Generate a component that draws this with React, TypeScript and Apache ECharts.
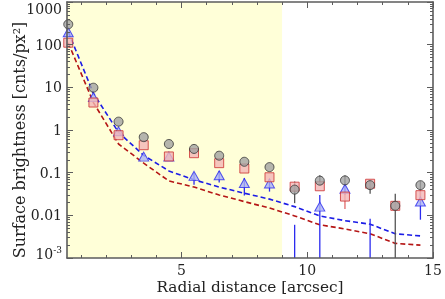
import React, { useEffect, useRef } from 'react';
import * as echarts from 'echarts';

// ---- data ----
const radius = [0.5, 1.5, 2.5, 3.5, 4.5, 5.5, 6.5, 7.5, 8.5, 9.5, 10.5, 11.5, 12.5, 13.5, 14.5];
const grayValues = [300, 9.8, 1.57, 0.68, 0.47, 0.36, 0.25, 0.18, 0.135, 0.04, 0.065, 0.066, 0.051, 0.0167, 0.051];
const grayErrLow = [null, null, null, null, null, null, null, null, null, 0.0193, 0.052, 0.055, 0.032, 0.0005, 0.04];
const grayErrHigh = [null, null, null, null, null, null, null, null, null, 0.062, 0.087, 0.086, 0.064, 0.032, 0.064];
const redValues = [111, 4.4, 0.755, 0.44, 0.24, 0.286, 0.167, 0.125, 0.078, 0.047, 0.048, 0.0275, 0.055, 0.0167, 0.0297];
const redErrLow = [null, null, null, null, null, null, null, null, null, null, null, 0.014, 0.045, null, 0.021];
const redErrHigh = [null, null, null, null, null, null, null, null, null, null, null, 0.035, 0.064, null, 0.04];
const blueValues = [195, 5.9, 0.93, 0.238, 0.24, 0.084, 0.087, 0.057, 0.056, null, 0.016, 0.042, null, null, 0.021];
const blueErrLow = [null, null, null, null, null, 0.052, 0.059, 0.029, 0.036, 0.0005, 0.0005, 0.03, 0.0005, null, 0.0079];
const blueErrHigh = [null, null, null, null, null, 0.1, 0.11, 0.075, 0.07, 0.006, 0.03, 0.055, 0.0083, null, 0.04];
const blueModel = [200, 7.2, 0.88, 0.254, 0.11, 0.068, 0.046, 0.033, 0.024, 0.016, 0.0097, 0.0075, 0.0062, 0.0037, 0.0033];
const redModel = [110, 4.4, 0.47, 0.167, 0.064, 0.046, 0.03, 0.021, 0.0148, 0.0097, 0.006, 0.0048, 0.0037, 0.0022, 0.002];
const shadedRange = [0.45, 9];
const xRange = [0.45, 15];
const yRange = [0.001, 1000];
const xMajorTicks = [5, 10, 15];
const xMinorTicks = [1, 2, 3, 4, 6, 7, 8, 9, 11, 12, 13, 14];
const yMajorTicks = [0.001, 0.01, 0.1, 1, 10, 100, 1000];
const yTickLabels = ['10^-3', '0.01', '0.1', '1', '10', '100', '1000'];
const yMinorTicks: number[] = [];
[0.001, 0.01, 0.1, 1, 10, 100].forEach((d) => {
  for (let k = 2; k <= 9; k++) yMinorTicks.push(+(d * k).toPrecision(3));
});
const xTitle = 'Radial distance [arcsec]';
const yTitle = 'Surface brightness [cnts/px²]';

const FONT = 'DejaVu Serif';
const AXIS_COLOR = '#5c5c5c';
const TEXT_COLOR = '#222222';

function pairs(vals: (number | null)[]) {
  const out: number[][] = [];
  vals.forEach((v, i) => {
    if (v != null) out.push([radius[i], v]);
  });
  return out;
}
function errData(lo: (number | null)[], hi: (number | null)[]) {
  const out: number[][] = [];
  lo.forEach((l, i) => {
    const h = hi[i];
    if (l != null && h != null) out.push([radius[i], l, h]);
  });
  return out;
}

function xAxisDef(position: 'top' | 'bottom', major: boolean, main: boolean) {
  return {
    type: 'value',
    position,
    min: xRange[0],
    max: xRange[1],
    z: 10,
    axisLine: { show: major, onZero: false, lineStyle: { color: AXIS_COLOR, width: 1.6 } },
    axisTick: {
      show: true,
      inside: true,
      length: major ? 6 : 3,
      customValues: major ? xMajorTicks : xMinorTicks,
      lineStyle: { color: AXIS_COLOR, width: 1 },
    },
    axisLabel: main
      ? { show: true, customValues: xMajorTicks, margin: 5, fontFamily: FONT, fontSize: 14, color: TEXT_COLOR }
      : { show: false },
    splitLine: { show: false },
    ...(main
      ? {
          name: xTitle,
          nameLocation: 'middle',
          nameGap: 21,
          nameMoveOverlap: false,
          nameTextStyle: { fontFamily: FONT, fontSize: 15.3, color: TEXT_COLOR },
        }
      : {}),
  };
}

function yLabelFormatter(v: number) {
  let idx = 0;
  let best = Infinity;
  yMajorTicks.forEach((t, i) => {
    const d = Math.abs(Math.log10(t) - Math.log10(v));
    if (d < best) {
      best = d;
      idx = i;
    }
  });
  const s = yTickLabels[idx];
  if (s.indexOf('^') >= 0) {
    const [b, e] = s.split('^');
    return `{b|${b}}{s|${e}}`;
  }
  if (idx === yMajorTicks.length - 1) return `{t|${s}}`;
  return s;
}

function yAxisDef(position: 'left' | 'right', major: boolean, main: boolean) {
  return {
    type: 'log',
    logBase: 10,
    position,
    min: yRange[0],
    max: yRange[1],
    z: 10,
    axisLine: { show: major, onZero: false, lineStyle: { color: AXIS_COLOR, width: 1.6 } },
    axisTick: {
      show: true,
      inside: true,
      length: major ? 6 : 3,
      customValues: major ? yMajorTicks : yMinorTicks,
      lineStyle: { color: AXIS_COLOR, width: 1 },
    },
    minorTick: { show: false },
    axisLabel: main
      ? {
          show: true,
          customValues: yMajorTicks,
          margin: 5,
          fontFamily: FONT,
          fontSize: 14,
          color: TEXT_COLOR,
          formatter: yLabelFormatter,
          rich: {
            b: { fontFamily: FONT, fontSize: 14, color: TEXT_COLOR, verticalAlign: 'bottom', padding: [0, 0, 10, 0] },
            s: { fontFamily: FONT, fontSize: 9, color: TEXT_COLOR, verticalAlign: 'bottom', padding: [0, 0, 17, 0] },
            t: { fontFamily: FONT, fontSize: 14, color: TEXT_COLOR, padding: [13, 0, 0, 0] },
          },
        }
      : { show: false },
    splitLine: { show: false },
    ...(main
      ? {
          name: yTitle,
          nameLocation: 'middle',
          nameGap: 40,
          nameMoveOverlap: false,
          nameTextStyle: { fontFamily: FONT, fontSize: 16, color: TEXT_COLOR, padding: [0, 20, 0, 0] },
        }
      : {}),
  };
}

function errSeries(name: string, data: number[][], color: string) {
  return {
    name,
    type: 'custom',
    clip: true,
    z: 3,
    data,
    renderItem: (params: any, api: any) => {
      const x = api.value(0);
      const p1 = api.coord([x, api.value(1)]);
      const p2 = api.coord([x, api.value(2)]);
      return {
        type: 'line',
        shape: { x1: p1[0], y1: p1[1], x2: p2[0], y2: p2[1] },
        style: { stroke: color, lineWidth: 1.3 },
      };
    },
  };
}

const option = {
  animation: false,
  grid: { left: 67, right: 12, top: 2, bottom: 41, containLabel: false, outerBoundsMode: 'none' },
  xAxis: [
    xAxisDef('bottom', true, true),
    xAxisDef('bottom', false, false),
    xAxisDef('top', true, false),
    xAxisDef('top', false, false),
  ],
  yAxis: [
    yAxisDef('left', true, true),
    yAxisDef('left', false, false),
    yAxisDef('right', true, false),
    yAxisDef('right', false, false),
  ],
  series: [
    {
      name: 'blue model',
      type: 'line',
      z: 2,
      data: pairs(blueModel),
      showSymbol: false,
      symbol: 'none',
      lineStyle: { color: '#1c1ce6', width: 1.6, type: [5, 3] },
      markArea: {
        silent: true,
        z: 0,
        itemStyle: { color: '#ffffd8' },
        data: [[{ coord: [shadedRange[0], yRange[0]] }, { coord: [shadedRange[1], yRange[1]] }]],
      },
    },
    {
      name: 'red model',
      type: 'line',
      z: 2,
      data: pairs(redModel),
      showSymbol: false,
      symbol: 'none',
      lineStyle: { color: '#b51515', width: 1.6, type: [5, 3] },
    },
    errSeries('blue err', errData(blueErrLow, blueErrHigh), '#2b2bef'),
    errSeries('red err', errData(redErrLow, redErrHigh), '#e06a6a'),
    errSeries('gray err', errData(grayErrLow, grayErrHigh), '#555555'),
    {
      name: 'blue',
      type: 'scatter',
      z: 4,
      data: pairs(blueValues),
      symbol: 'triangle',
      symbolSize: [10, 9],
      itemStyle: { color: '#aab2f4', borderColor: '#2b2bef', borderWidth: 1 },
    },
    {
      name: 'red',
      type: 'scatter',
      z: 5,
      data: pairs(redValues),
      symbol: 'rect',
      symbolSize: 9,
      itemStyle: { color: '#f3b6b6', borderColor: '#cc2f2f', borderWidth: 1 },
    },
    {
      name: 'gray',
      type: 'scatter',
      z: 6,
      data: pairs(grayValues),
      symbol: 'circle',
      symbolSize: 9,
      itemStyle: { color: '#a3a3a3', borderColor: '#333333', borderWidth: 1 },
    },
  ],
};

export default function App() {
  const ref = useRef<HTMLDivElement>(null);
  useEffect(() => {
    if (!ref.current) return;
    const chart = echarts.init(ref.current, null, { renderer: 'svg' });
    chart.setOption(option as any);
    return () => chart.dispose();
  }, []);
  return <div ref={ref} style={{ position: 'fixed', left: 0, top: 0, width: 445, height: 299 }} />;
}
